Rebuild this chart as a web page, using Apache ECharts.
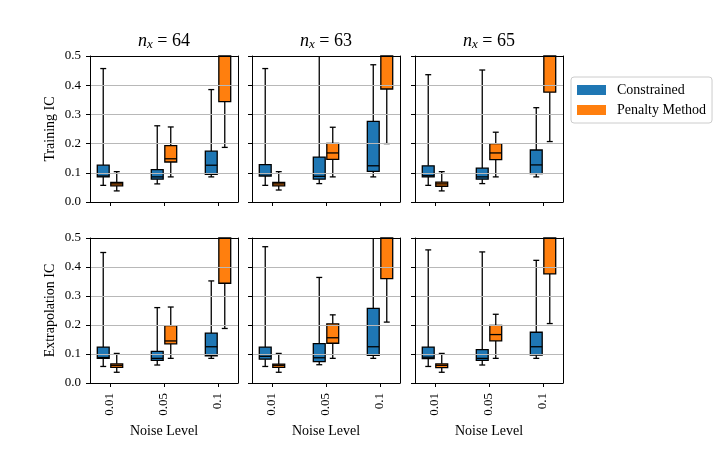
<!DOCTYPE html>
<html>
<head>
<meta charset="utf-8">
<script src="https://cdn.jsdelivr.net/npm/echarts@6/dist/echarts.min.js"></script>
<style>
html,body{margin:0;padding:0;background:#fff;}
#chart{width:723px;height:465px;}
</style>
</head>
<body>
<div id="chart"></div>
<script>
// ---- data: each entry is [min, Q1, median, Q3, max] for noise levels 0.01, 0.05, 0.1
const noiseLevels = ['0.01', '0.05', '0.1'];
const gridSizes = ['64', '63', '65'];
const seriesNames = ['Constrained', 'Penalty Method'];
const rowNames = ['Training IC', 'Extrapolation IC'];

const trainConstrained64 = [[0.057, 0.086, 0.089, 0.126, 0.457], [0.062, 0.078, 0.086, 0.111, 0.261], [0.086, 0.095, 0.126, 0.174, 0.385]];
const trainPenalty64     = [[0.038, 0.055, 0.062, 0.067, 0.104], [0.086, 0.137, 0.148, 0.193, 0.257], [0.187, 0.344, 0.600, 0.850, 1.400]];
const trainConstrained63 = [[0.057, 0.089, 0.097, 0.128, 0.457], [0.063, 0.078, 0.088, 0.154, 0.650], [0.086, 0.105, 0.124, 0.276, 0.470]];
const trainPenalty63     = [[0.041, 0.055, 0.062, 0.067, 0.104], [0.086, 0.146, 0.168, 0.201, 0.256], [0.200, 0.387, 0.620, 0.880, 1.400]];
const trainConstrained65 = [[0.057, 0.086, 0.090, 0.124, 0.436], [0.063, 0.078, 0.086, 0.116, 0.452], [0.086, 0.097, 0.127, 0.178, 0.323]];
const trainPenalty65     = [[0.038, 0.054, 0.062, 0.068, 0.104], [0.086, 0.145, 0.168, 0.200, 0.239], [0.207, 0.376, 0.610, 0.860, 1.400]];

const extraConstrained64 = [[0.057, 0.085, 0.088, 0.124, 0.450], [0.062, 0.078, 0.085, 0.109, 0.260], [0.085, 0.094, 0.125, 0.172, 0.352]];
const extraPenalty64     = [[0.037, 0.054, 0.061, 0.066, 0.102], [0.085, 0.135, 0.145, 0.198, 0.262], [0.188, 0.344, 0.600, 0.850, 1.400]];
const extraConstrained63 = [[0.057, 0.082, 0.092, 0.124, 0.470], [0.063, 0.074, 0.087, 0.136, 0.364], [0.085, 0.095, 0.125, 0.257, 0.650]];
const extraPenalty63     = [[0.037, 0.054, 0.061, 0.065, 0.102], [0.085, 0.137, 0.156, 0.204, 0.235], [0.210, 0.360, 0.620, 0.880, 1.400]];
const extraConstrained65 = [[0.057, 0.084, 0.089, 0.124, 0.459], [0.062, 0.078, 0.085, 0.115, 0.452], [0.085, 0.096, 0.125, 0.175, 0.423]];
const extraPenalty65     = [[0.037, 0.053, 0.061, 0.066, 0.102], [0.085, 0.145, 0.167, 0.199, 0.237], [0.205, 0.376, 0.610, 0.860, 1.400]];

const panels = [
  [trainConstrained64, trainPenalty64], [trainConstrained63, trainPenalty63], [trainConstrained65, trainPenalty65],
  [extraConstrained64, extraPenalty64], [extraConstrained63, extraPenalty63], [extraConstrained65, extraPenalty65]
];

// ---- style / layout
const FONT = 'Liberation Serif';
const colors = ['#1f77b4', '#ff7f0e'];
const offsets = [-0.125, 0.125];
const BOX_W = 0.22;   // in x-axis units
const Y_MAX = 0.5;
const colLeft = [90, 252, 415];
const rowTop = [56, 238];
const rowH = [146, 145];
const W = 148;

const grids = [], xAxes = [], yAxes = [], series = [], titles = [];

function renderBox(params, api) {
  const x = api.value(0);
  const mn = api.value(1), q1 = api.value(2), md = api.value(3), q3 = api.value(4), mx = api.value(5);
  const c = v => api.coord([x, Math.min(v, Y_MAX)]);
  const bw = api.size([BOX_W, 0])[0];
  const hw = bw / 2, cw = bw / 4;
  const color = api.visual('color');
  const ls = { stroke: '#000', lineWidth: 1.3 };
  const ch = [];
  const pMin = c(mn), pQ1 = c(q1), pQ3 = c(q3), pMax = c(mx);
  const cx = pMin[0];
  ch.push({ type: 'line', shape: { x1: cx, y1: pMin[1], x2: cx, y2: pQ1[1] }, style: ls });
  ch.push({ type: 'line', shape: { x1: cx - cw, y1: pMin[1], x2: cx + cw, y2: pMin[1] }, style: ls });
  if (q3 < Y_MAX) {
    ch.push({ type: 'line', shape: { x1: cx, y1: pQ3[1], x2: cx, y2: pMax[1] }, style: ls });
    if (mx <= Y_MAX) {
      ch.push({ type: 'line', shape: { x1: cx - cw, y1: pMax[1], x2: cx + cw, y2: pMax[1] }, style: ls });
    }
  }
  ch.push({ type: 'rect', shape: { x: cx - hw, y: pQ3[1], width: bw, height: pQ1[1] - pQ3[1] },
            style: { fill: color, stroke: '#000', lineWidth: 1.3 } });
  if (md <= Y_MAX) {
    const pMd = c(md);
    ch.push({ type: 'line', shape: { x1: cx - hw, y1: pMd[1], x2: cx + hw, y2: pMd[1] }, style: ls });
  }
  return { type: 'group', children: ch };
}

for (let g = 0; g < 6; g++) {
  const row = Math.floor(g / 3), col = g % 3;
  grids.push({ left: colLeft[col], top: rowTop[row], width: W, height: rowH[row], containLabel: false });
  const isBottom = row === 1, isLeft = col === 0;
  xAxes.push({
    type: 'value', gridIndex: g, position: 'bottom', min: -0.37, max: 2.37,
    axisLine: { show: true, onZero: false, lineStyle: { color: '#000', width: 1 } },
    axisTick: { show: true, inside: false, length: 4, customValues: [0, 1, 2], lineStyle: { color: '#000', width: 1 } },
    axisLabel: { show: isBottom, customValues: [0, 1, 2], rotate: 90, margin: 10,
                 formatter: v => noiseLevels[Math.round(v)], color: '#000', fontFamily: FONT, fontSize: 13 },
    splitLine: { show: false },
    name: isBottom ? 'Noise Level' : '', nameLocation: 'middle', nameGap: 41,
    nameTextStyle: { color: '#000', fontFamily: FONT, fontSize: 14 },
    z: 5
  });
  xAxes.push({
    type: 'value', gridIndex: g, position: 'top', min: -0.37, max: 2.37,
    axisLine: { show: true, onZero: false, lineStyle: { color: '#000', width: 1 } },
    axisTick: { show: false }, axisLabel: { show: false }, splitLine: { show: false }, z: 5
  });
  yAxes.push({
    type: 'value', gridIndex: g, position: 'left', min: 0, max: Y_MAX, interval: 0.1,
    axisLine: { show: true, onZero: false, lineStyle: { color: '#000', width: 1 } },
    axisTick: { show: true, inside: false, length: 4, lineStyle: { color: '#000', width: 1 } },
    axisLabel: { show: isLeft, margin: 9, formatter: v => v.toFixed(1), color: '#000', fontFamily: FONT, fontSize: 13 },
    splitLine: { show: true, lineStyle: { color: '#b8b8b8', width: 1 } },
    name: isLeft ? rowNames[row] : '', nameLocation: 'middle', nameGap: 33,
    nameTextStyle: { color: '#000', fontFamily: FONT, fontSize: 14 },
    z: 5
  });
  yAxes.push({
    type: 'value', gridIndex: g, position: 'right', min: 0, max: Y_MAX,
    axisLine: { show: true, onZero: false, lineStyle: { color: '#000', width: 1 } },
    axisTick: { show: false }, axisLabel: { show: false }, splitLine: { show: false }, z: 5
  });
  for (let s = 0; s < 2; s++) {
    const vals = panels[g][s];
    series.push({
      type: 'custom', name: seriesNames[s], xAxisIndex: 2 * g, yAxisIndex: 2 * g,
      itemStyle: { color: colors[s] },
      encode: { x: 0, y: [1, 2, 3, 4, 5] },
      data: vals.map((b, i) => [i + offsets[s]].concat(b)),
      renderItem: renderBox, z: 3, silent: true
    });
  }
}

for (let col = 0; col < 3; col++) {
  titles.push({
    text: '{i|n}{s|x}{r| = ' + gridSizes[col] + '}',
    left: colLeft[col] + W / 2, top: 31, textAlign: 'center', padding: 0,
    textStyle: {
      fontWeight: 'normal',
      rich: {
        i: { fontFamily: FONT, fontStyle: 'italic', fontWeight: 'normal', fontSize: 18, lineHeight: 20, color: '#000' },
        s: { fontFamily: FONT, fontStyle: 'italic', fontWeight: 'normal', fontSize: 13, lineHeight: 12, verticalAlign: 'bottom', color: '#000' },
        r: { fontFamily: FONT, fontWeight: 'normal', fontSize: 18, lineHeight: 20, color: '#000' }
      }
    }
  });
}

const chart = echarts.init(document.getElementById('chart'), null, { renderer: 'canvas' });
chart.setOption({
  backgroundColor: '#fff',
  animation: false,
  title: titles,
  legend: {
    data: seriesNames, orient: 'vertical', left: 571, top: 77,
    icon: 'rect', itemWidth: 29, itemHeight: 10, itemGap: 4,
    padding: [5, 6, 5, 6], borderColor: '#cccccc', borderWidth: 1, borderRadius: 3,
    backgroundColor: '#fff',
    textStyle: { fontFamily: FONT, fontSize: 14, color: '#000', lineHeight: 16, padding: [0, 0, 0, 6] },
    selectedMode: false
  },
  grid: grids, xAxis: xAxes, yAxis: yAxes, series: series
});
</script>
</body>
</html>
